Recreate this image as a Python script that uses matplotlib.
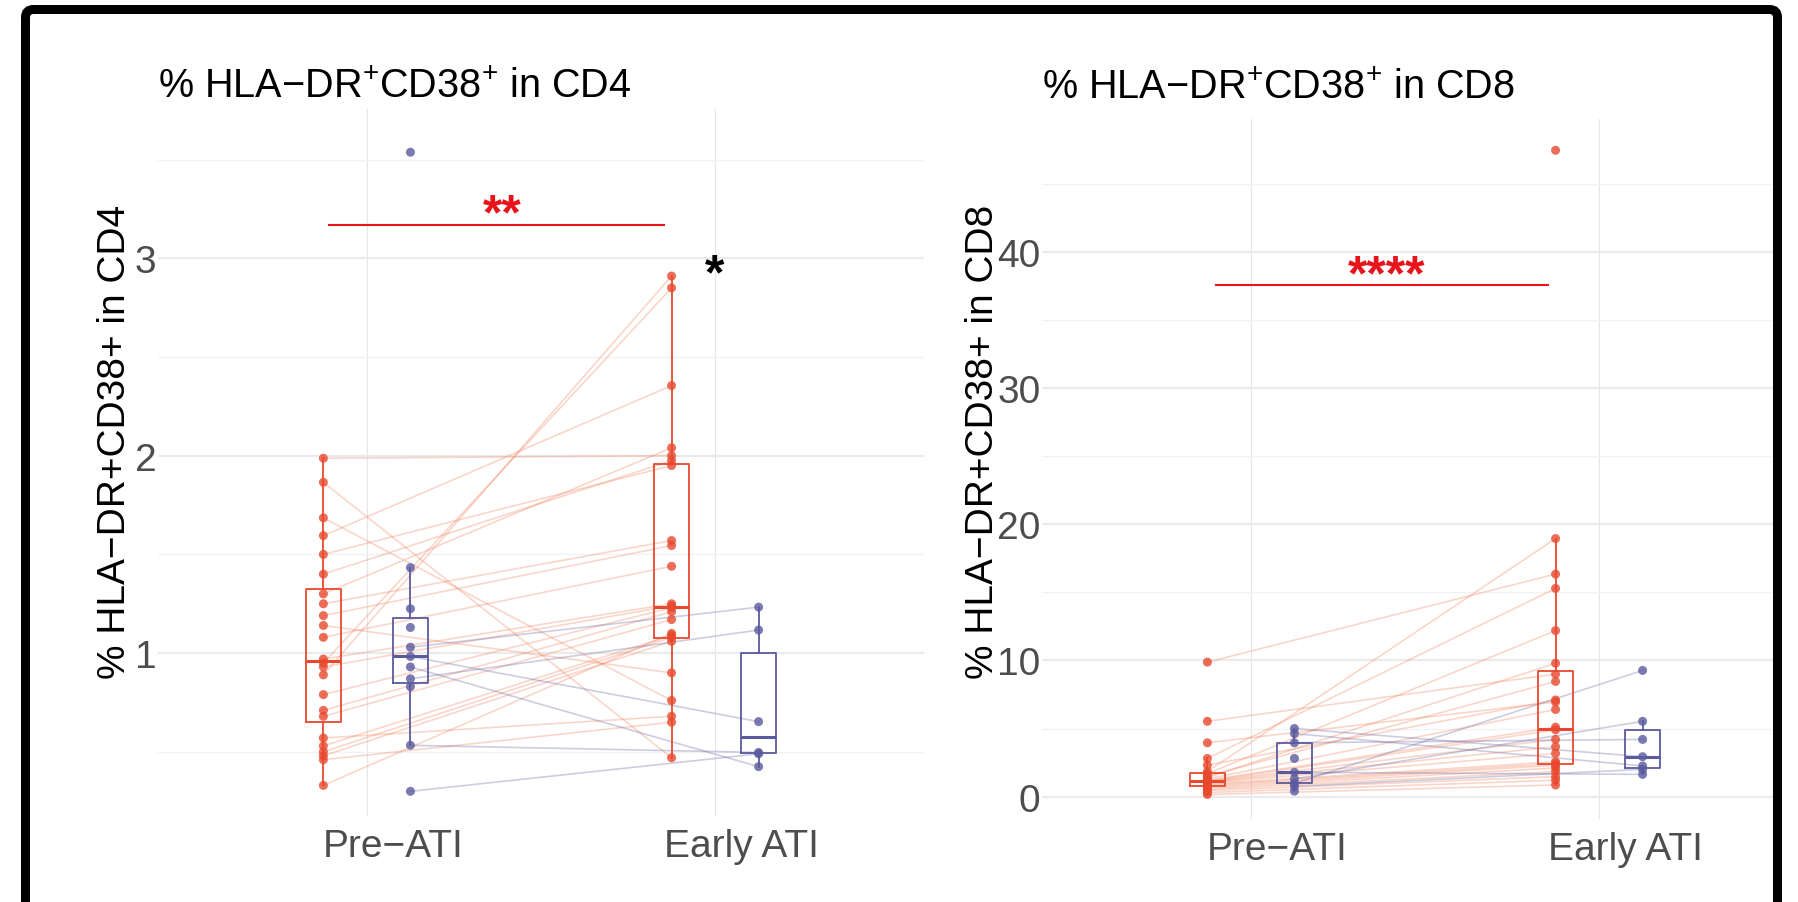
import numpy as np
import matplotlib
matplotlib.use("Agg")
import matplotlib.pyplot as plt
import matplotlib.patches as patches
from matplotlib.transforms import ScaledTranslation, IdentityTransform

plt.rcParams['font.family'] = ['Liberation Sans', 'DejaVu Sans']
plt.rcParams['mathtext.fontset'] = 'custom'
plt.rcParams['mathtext.rm'] = 'Liberation Sans'
plt.rcParams['mathtext.it'] = 'Liberation Sans:italic'
plt.rcParams['mathtext.bf'] = 'Liberation Sans:bold'

# ---------------- DATA ----------------
groups = ["Pre\u2212ATI", "Early ATI"]

# CD4 - red group, paired pre / early
cd4_red_pre = [1.987, 1.865, 1.685, 1.595, 1.50, 1.40, 1.30, 1.25, 1.19, 1.14, 1.08, 0.97,
               0.95, 0.93, 0.89, 0.79, 0.71, 0.68, 0.57, 0.53, 0.50, 0.48, 0.46, 0.33]
cd4_red_early = [2.00, 0.47, 0.76, 2.355, 1.95, 1.975, 2.04, 1.57, 1.545, 0.90, 1.44, 1.25,
                 2.85, 1.24, 2.91, 1.23, 1.21, 1.17, 0.68, 1.09, 1.08, 1.06, 0.65, 1.10]
# CD4 - blue group, first values of pre are paired with early
cd4_blue_pre = [1.03, 0.983, 0.87, 0.93, 0.30, 0.533, 3.537, 1.433, 1.225, 1.13, 0.83]
cd4_blue_early = [1.233, 0.653, 1.117, 0.425, 0.49, 0.497]

# CD8 - red group (last early sample has no pre value)
cd8_red_pre = [9.88, 5.53, 3.95, 2.80, 2.31, 1.84, 1.68, 1.5, 1.4, 1.3, 1.2, 1.14,
               1.1, 1.06, 1.0, 0.92, 0.85, 0.75, 0.65, 0.55, 0.45, 0.3, 0.15, np.nan]
cd8_red_early = [16.35, 9.0, 6.95, 15.3, 7.1, 18.96, 12.2, 8.46, 9.8, 6.4, 5.1, 4.9,
                 4.2, 3.66, 3.17, 2.56, 2.42, 2.3, 2.1, 1.83, 1.46, 1.2, 0.85, 47.5]
# CD8 - blue group
cd8_blue_pre = [5.0, 4.63, 0.97, 1.3, 0.75, 1.78, 3.95, 0.4, 2.8]
cd8_blue_early = [2.93, 2.25, 9.27, 5.53, 2.0, 1.63, 4.2]

titles = [r"% HLA$-$DR$^{+}$CD38$^{+}$ in CD4", r"% HLA$-$DR$^{+}$CD38$^{+}$ in CD8"]
ylabels = ["% HLA\u2212DR+CD38+ in CD4", "% HLA\u2212DR+CD38+ in CD8"]

# ---------------- STYLE ----------------
red = "#E8492E"
line_red = "#F07850"
blue = "#5A5A9E"
sig_red = "#E8141C"
dodge = 0.125
W, H = 1799, 903

fig = plt.figure(figsize=(W / 100, H / 100), dpi=100)
fig.patch.set_facecolor("white")


def px_axes(x0, x1, y0, y1):
    # pixel box (top-left origin) -> figure axes
    return fig.add_axes([x0 / W, 1 - y1 / H, (x1 - x0) / W, (y1 - y0) / H])


def draw_group(ax, pre, early, color, lcolor, xoff):
    pre = np.asarray(pre, dtype=float)
    early = np.asarray(early, dtype=float)
    n = min(len(pre), len(early))
    # paired lines
    for a, b in zip(pre[:n], early[:n]):
        if np.isnan(a) or np.isnan(b):
            continue
        ax.plot([1 + xoff, 2 + xoff], [a, b], color=lcolor, alpha=0.3, lw=1.2, zorder=1)
    for pos, vals in ((1 + xoff, pre), (2 + xoff, early)):
        vals = vals[~np.isnan(vals)]
        ax.boxplot([vals], positions=[pos], widths=0.1, whis=1.5, showfliers=False,
                   showcaps=False, manage_ticks=False,
                   boxprops=dict(color=color, lw=1.3),
                   whiskerprops=dict(color=color, lw=1.3),
                   medianprops=dict(color=color, lw=2.2), zorder=2)
        ax.scatter(np.full(len(vals), pos), vals, s=42, color=color, alpha=0.8,
                   edgecolors="none", zorder=3)


def style_axes(ax, ylim, major, minor, title, ylabel, ylab_y, tpad, lpad):
    ax.set_xlim(0.4, 2.6)
    ax.set_ylim(*ylim)
    ax.set_yticks(major)
    ax.set_yticks(minor, minor=True)
    ax.set_xticks([1, 2])
    ax.set_xticklabels(groups)
    for s in ax.spines.values():
        s.set_visible(False)
    ax.tick_params(which="both", length=0, labelsize=28, labelcolor="#4D4D4D")
    ax.tick_params(axis="y", pad=1)
    ax.tick_params(axis="x", pad=9)
    ax.grid(axis="y", which="major", color="#EBEBEB", lw=1.6, zorder=0)
    ax.grid(axis="y", which="minor", color="#F2F2F2", lw=1.0, zorder=0)
    ax.grid(axis="x", which="major", color="#E6E6E6", lw=0.8, zorder=0)
    ax.set_axisbelow(True)
    off = ScaledTranslation(26 / 100, 0, fig.dpi_scale_trans)
    for lab in ax.get_xticklabels():
        lab.set_transform(lab.get_transform() + off)
    ax.set_title(title, loc="left", fontsize=28.5, pad=tpad, color="black")
    ax.set_ylabel(ylabel, fontsize=28, labelpad=lpad, color="black", y=ylab_y)


# ---------------- LEFT PANEL (CD4) ----------------
ax1 = px_axes(158, 924, 110, 817)
draw_group(ax1, cd4_red_pre, cd4_red_early, red, line_red, -dodge)
draw_group(ax1, cd4_blue_pre, cd4_blue_early, blue, blue, dodge)
style_axes(ax1, (0.175, 3.756), [1, 2, 3], [0.5, 1.5, 2.5, 3.5], titles[0], ylabels[0], 0.53, 9, 1)
ax1.plot([0.89, 1.853], [3.169, 3.169], color=sig_red, lw=1.5, zorder=4)
ax1.text(1.39, 3.15, "**", ha="center", va="baseline", color=sig_red,
         fontsize=36, fontweight="bold", zorder=5)
ax1.text(2.0, 2.85, "*", ha="center", va="baseline", color="black",
         fontsize=36, fontweight="bold", zorder=5)

# ---------------- RIGHT PANEL (CD8) ----------------
ax2 = px_axes(1042, 1808, 120, 820)
draw_group(ax2, cd8_red_pre, cd8_red_early, red, line_red, -dodge)
draw_group(ax2, cd8_blue_pre, cd8_blue_early, blue, blue, dodge)
style_axes(ax2, (-1.65, 49.8), [0, 10, 20, 30, 40], [5, 15, 25, 35, 45], titles[1], ylabels[1], 0.54, 15, -3)
ax2.plot([0.90, 1.853], [37.6, 37.6], color=sig_red, lw=1.5, zorder=4)
ax2.text(1.39, 37.3, "****", ha="center", va="baseline", color=sig_red,
         fontsize=36, fontweight="bold", zorder=5)

# ---------------- FRAME ----------------
fig.add_artist(patches.Rectangle((1782, 0), 30, H, transform=IdentityTransform(),
                                 facecolor="white", edgecolor="none", zorder=20))
frame = patches.FancyBboxPatch((25.5, -40), 1752, H - 10.5 + 40,
                               boxstyle="round,pad=0,rounding_size=8",
                               transform=IdentityTransform(), facecolor="none",
                               edgecolor="black", lw=9 * 0.72, zorder=21)
fig.add_artist(frame)

fig.savefig("out.png", dpi=100)
